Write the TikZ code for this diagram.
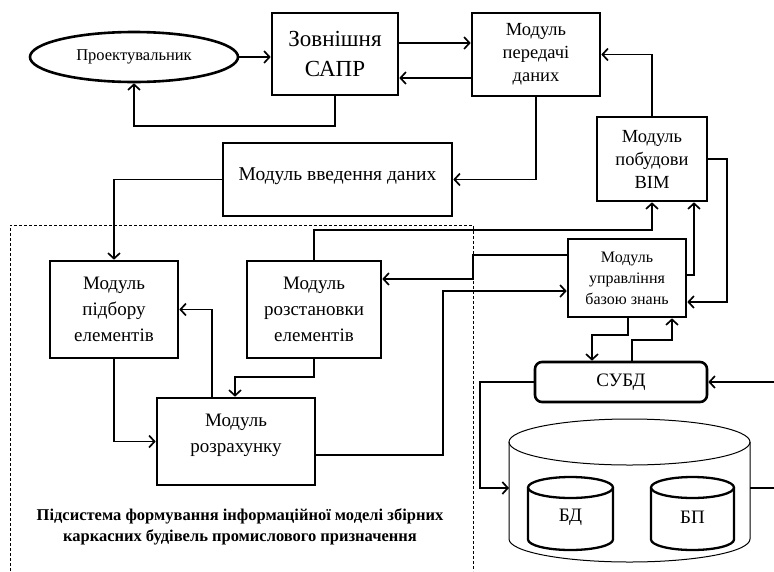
\documentclass[tikz,border=0pt]{standalone}
\usepackage{fontspec}
\setmainfont{Liberation Serif}
\usetikzlibrary{arrows.meta,shapes.geometric,calc}
\begin{document}
\begin{tikzpicture}[x=1pt,y=-1pt,
  box/.style={draw, line width=2.6pt, inner sep=0pt, align=center, font=\fontsize{19}{26}\selectfont},
  arr/.style={line width=1.7pt, -{Straight Barb[length=5.5pt,width=12pt,line width=1.7pt]}},
  ln/.style={line width=1.7pt},
  txt/.style={inner sep=0pt, align=center}]
\useasboundingbox (0,0) rectangle (774,571);
% dashed subsystem frame
\draw[dash pattern=on 3pt off 2pt, line width=1pt] (10,571) -- (10,225) -- (473,225) -- (473,571);
% nodes
\node[draw, ellipse, line width=2.6pt, inner sep=0pt, minimum width=208pt, minimum height=50pt, font=\fontsize{16.5}{18}\selectfont] (ell) at (134,57) {Проектувальник};
\node[box, minimum width=126pt, minimum height=82pt, font=\fontsize{23}{30}\selectfont] (sapr) at (335,54) {Зовнішня\\САПР};
\node[box, minimum width=128pt, minimum height=83pt, font=\fontsize{18.5}{23}\selectfont] (pered) at (536,54.5) {Модуль\\передачі\\даних};
\node[box, minimum width=110pt, minimum height=84pt, font=\fontsize{18.5}{23}\selectfont] (bim) at (652,159) {Модуль\\побудови\\BIM};
\node[box, minimum width=229pt, minimum height=73pt] (vved) at (337.5,179.5) {};
\node[txt, font=\fontsize{19.5}{26}\selectfont] (vvedt) at (337.5,176) {Модуль введення даних};
\node[box, minimum width=128pt, minimum height=97pt] (pidb) at (114,309.5) {Модуль\\підбору\\елементів};
\node[box, minimum width=134pt, minimum height=97pt] (rozst) at (314,309.5) {Модуль\\розстановки\\елементів};
\node[box, minimum width=158pt, minimum height=87pt] (rozr) at (236,441.5) {};
\node[txt, font=\fontsize{19}{26}\selectfont] (rozrt) at (236,435) {Модуль\\розрахунку};
\node[box, minimum width=118pt, minimum height=78pt, font=\fontsize{16}{21}\selectfont] (upr) at (627,278) {Модуль\\управління\\базою знань};
\node[box, rounded corners=7pt, minimum width=172pt, minimum height=40pt] (subd) at (621,382) {СУБД};
% big cylinder
\draw[line width=1pt] (509,442) -- (509,539) arc[start angle=180, end angle=360, x radius=120.5pt, y radius=23pt] -- (750,442);
\draw[line width=1pt] (629.5,442) ellipse [x radius=120.5pt, y radius=23pt];
\coordinate (bigL) at (509,488);
\coordinate (bigR) at (750,488);
% small cylinders
\draw[line width=2.3pt] (528,487.5) -- (528,539.5) arc[start angle=180, end angle=360, x radius=42.5pt, y radius=10.5pt] -- (613,487.5);
\draw[line width=2.3pt] (570.5,487.5) ellipse [x radius=42.5pt, y radius=10.5pt];
\draw[line width=2.3pt] (651,487.5) -- (651,539.5) arc[start angle=180, end angle=360, x radius=41.5pt, y radius=10.5pt] -- (734,487.5);
\draw[line width=2.3pt] (692.5,487.5) ellipse [x radius=41.5pt, y radius=10.5pt];
\node[txt, font=\fontsize{19}{26}\selectfont] (bd) at (570.5,517) {БД};
\node[txt, font=\fontsize{19}{26}\selectfont] (bp) at (692.5,517) {БП};
% subsystem caption
\node[txt, font=\fontsize{16.5}{21}\selectfont\bfseries] (cap) at (240,527) {Підсистема формування інформаційної моделі збірних\\каркасних будівель промислового призначення};
% free ends
\coordinate (r1) at (774,382);
\coordinate (r2) at (774,488);
% connectors
\draw[arr] (ell.east) -- (sapr.west |- ell.east);
\draw[arr] (sapr.south) -- (sapr.south |- 0,126) -| (ell.south);
\draw[arr] (sapr.east |- 0,43) -- (pered.west |- 0,43);
\draw[arr] (pered.west |- 0,78) -- (sapr.east |- 0,78);
\draw[arr] (pered.south) |- (vved.east);
\draw[arr] (bim.north) |- (pered.east);
\draw[arr] (vved.west) -| (pidb.north);
\draw[arr] (pidb.south) |- (rozr.west);
\draw[arr] (rozr.north -| 212,0) |- (pidb.east);
\draw[arr] (rozst.south) -- (rozst.south |- 0,377) -| (rozr.north -| 235,0);
\draw[arr] (rozst.north) |- (652,230) -- (bim.south);
\draw[arr] (upr.west |- 0,255) -| (473,279) -- (rozst.east |- 0,279);
\draw[arr] (rozr.east |- 0,455) -| (443,291) -- (upr.west |- 0,291);
\draw[arr] (upr.east |- 0,275) -| (bim.south -| 694,0);
\draw[arr] (bim.east) -| (727,302) -- (upr.east |- 0,302);
\draw[arr] (upr.south -| 628,0) |- (592,335) -- (subd.north -| 592,0);
\draw[arr] (subd.north -| 632,0) |- (672,340) -- (upr.south -| 672,0);
\draw[arr] (r1) -- (subd.east);
\draw[arr] (subd.west) -| (480,488) -- (bigL);
\draw[ln] (bigR) -- (r2);
\end{tikzpicture}
\end{document}
